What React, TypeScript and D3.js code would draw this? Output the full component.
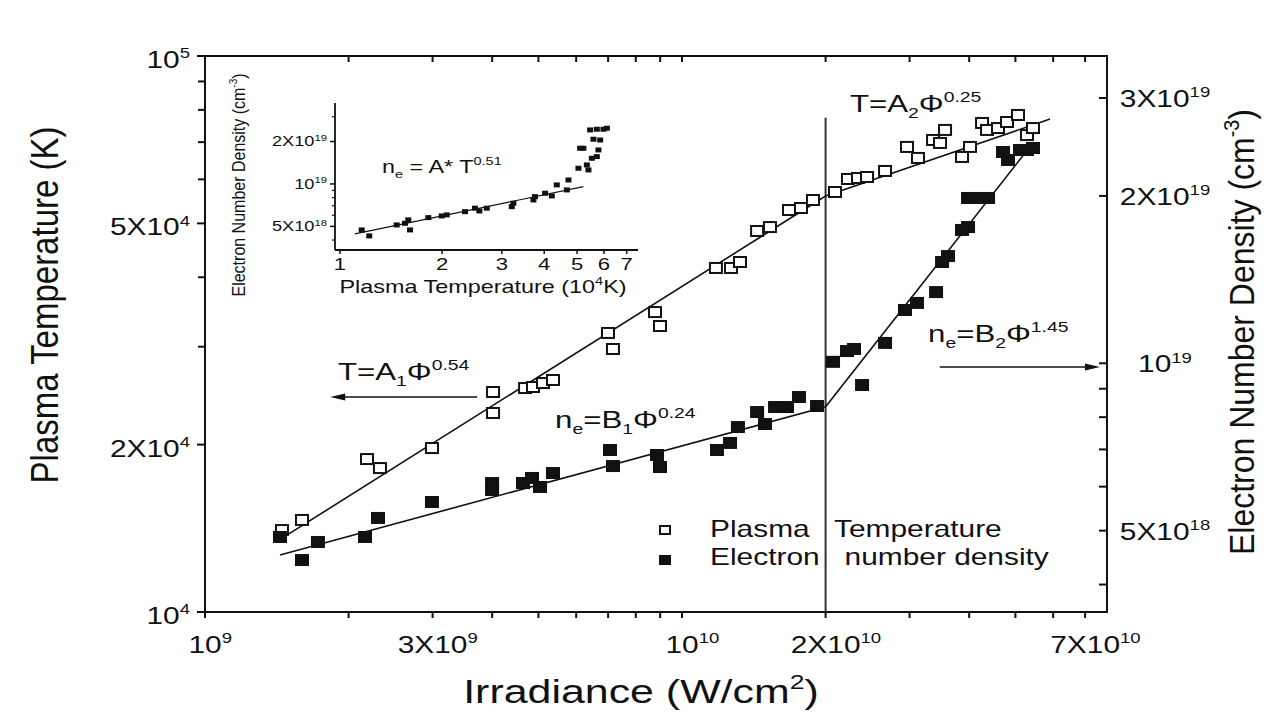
import React from 'react';
import * as d3 from 'd3';

const W = 1267;
const H = 719;
const FONT = '"Liberation Sans", Arial, Helvetica, sans-serif';
const SX = 1.3; // horizontal stretch of the original figure's lettering
const INK = '#111';

// ---- main chart data ----
// Irradiance in units of 1e9 W/cm^2, plasma temperature in units of 1e4 K
const tempIrr = [1.450, 1.597, 2.186, 2.327, 2.991, 4.017, 4.017, 4.688, 4.871, 5.112, 5.365, 6.996, 7.166, 8.779, 8.992, 11.78, 12.67, 13.23, 14.37, 15.29, 16.76, 17.76, 18.82, 20.93, 22.28, 23.39, 24.43, 26.65, 29.63, 31.24, 33.60, 34.75, 35.60, 38.64, 40.16, 42.56, 43.60, 45.97, 48.01, 50.63, 52.88, 54.43];
const tempVal = [1.404, 1.464, 1.884, 1.815, 1.972, 2.487, 2.280, 2.528, 2.539, 2.581, 2.614, 3.176, 2.972, 3.463, 3.269, 4.157, 4.157, 4.261, 4.845, 4.924, 5.284, 5.329, 5.508, 5.694, 6.009, 6.034, 6.059, 6.212, 6.862, 6.556, 7.063, 6.976, 7.362, 6.583, 6.862, 7.578, 7.362, 7.420, 7.609, 7.833, 7.208, 7.420];
// Electron number density in units of 1e18 cm^-3
const densIrr = [1.436, 1.597, 1.725, 2.165, 2.305, 2.991, 3.998, 3.998, 4.642, 4.848, 5.039, 5.365, 7.064, 7.166, 8.863, 8.992, 11.84, 12.61, 13.10, 14.37, 14.93, 15.67, 16.60, 17.59, 19.19, 20.73, 22.18, 22.94, 23.85, 26.65, 29.34, 31.09, 34.09, 35.09, 36.12, 38.64, 39.78, 39.78, 41.74, 43.81, 47.10, 48.24, 51.12, 52.88, 54.43];
const densVal = [4.871, 4.427, 4.771, 4.871, 5.270, 5.630, 6.090, 5.916, 6.090, 6.219, 5.991, 6.348, 6.983, 6.534, 6.840, 6.508, 6.983, 7.190, 7.679, 8.172, 7.776, 8.343, 8.343, 8.696, 8.379, 10.06, 10.52, 10.61, 9.139, 10.88, 12.47, 12.84, 13.43, 15.21, 15.59, 17.37, 17.58, 19.83, 19.83, 19.83, 23.99, 23.21, 24.19, 24.19, 24.39];
// power-law fit segments (break at 2e10 W/cm^2)
const tempFitIrr = [1.485, 20, 59.1];
const tempFitVal = [1.375, 5.60, 7.70];
const densFitIrr = [1.436, 20, 54.4];
const densFitVal = [4.52, 8.35, 24.9];
const breakIrr = 20;
const breakTop = 7.74;

// ---- inset data: n_e (1e18 cm^-3) vs plasma temperature (1e4 K) ----
const insetT = [1.159, 1.220, 1.470, 1.555, 1.590, 1.609, 1.822, 1.995, 2.064, 2.337, 2.50, 2.576, 2.709, 3.210, 3.245, 3.718, 3.758, 4.025, 4.212, 4.357, 4.665, 4.716, 5.047, 5.105, 5.22, 5.343, 5.402, 5.526, 5.717, 5.78, 5.587, 5.848, 5.463, 5.717, 5.98, 6.12];
const insetN = [4.72, 4.28, 5.12, 5.26, 5.56, 4.72, 5.77, 5.93, 6.03, 6.36, 6.73, 6.43, 6.73, 6.90, 7.30, 7.70, 8.13, 8.59, 8.22, 9.84, 9.07, 10.67, 12.92, 17.91, 17.91, 13.64, 12.57, 15.21, 15.63, 17.42, 20.75, 20.5, 24.15, 24.43, 24.43, 24.83];
const insetFitT = [1.107, 5.22];
const insetFitN = [4.42, 9.57];

// ---- ticks ----
const xMajor = [1, 3, 10, 20, 70];
const xMajorLabels: [string, string][] = [['10', '9'], ['3X10', '9'], ['10', '10'], ['2X10', '10'], ['7X10', '10']];
const xMinor = [2, 4, 5, 6, 7, 8, 9, 30, 40, 50, 60];
const yLMajor = [1, 2, 5, 10];
const yLLabels: [string, string][] = [['10', '4'], ['2X10', '4'], ['5X10', '4'], ['10', '5']];
const yLMinor = [3, 4, 6, 7, 8, 9];
const yRMajor = [5, 10, 20, 30];
const yRLabels: [string, string][] = [['5X10', '18'], ['10', '19'], ['2X10', '19'], ['3X10', '19']];
const yRMinor = [4, 6, 7, 8, 9];
const insetXTicks = [1, 2, 3, 4, 5, 6, 7];
const insetYMajor = [5, 10, 20];
const insetYLabels: [string, string][] = [['5X10', '18'], ['10', '19'], ['2X10', '19']];
const insetYMinor = [4, 6, 7, 8, 9, 30];

type Seg = [string, 'n' | 'sub' | 'sup'];

function Rich(props: {
  x: number; y: number; size: number; segs: Seg[]; anchor?: string; rotate?: number; sx?: number; sub?: number;
}) {
  const { x, y, size, segs, anchor = 'start', rotate = 0, sx = SX, sub = 0.62 } = props;
  let cur = 0;
  const spans = segs.map(([t, k], i) => {
    const fs = k === 'n' ? size : size * sub;
    const target = k === 'sup' ? -0.42 * size : k === 'sub' ? 0.26 * size : 0;
    const dy = target - cur;
    cur = target;
    return (
      <tspan key={i} dy={dy} fontSize={fs}>
        {t}
      </tspan>
    );
  });
  return (
    <text
      transform={`translate(${x},${y}) scale(${sx},1)${rotate ? ` rotate(${rotate})` : ''}`}
      textAnchor={anchor as any}
      fontSize={size}
      fontFamily={FONT}
      fill={INK}
      style={{ whiteSpace: 'pre' }}
    >
      {spans}
    </text>
  );
}

export default function App() {
  const L = 205, R = 1107, T = 56, B = 612;
  const x = d3.scaleLog().domain([1, 77.8]).range([L, R]);
  const yL = d3.scaleLog().domain([1, 10]).range([B, T]);
  const yR = d3.scaleLog().domain([3.57, 35.7]).range([B, T]);

  const iL = 335, iR = 638, iT = 103, iB = 250;
  const ix = d3.scaleLog().domain([0.967, 7.56]).range([iL, iR]);
  const iy = d3.scaleLog().domain([3.4, 37.5]).range([iB, iT]);

  const tempLine = d3.line<number>().x((_, i) => x(tempFitIrr[i])).y((d) => yL(d));
  const densLine = d3.line<number>().x((_, i) => x(densFitIrr[i])).y((d) => yR(d));
  const insetLine = d3.line<number>().x((_, i) => ix(insetFitT[i])).y((d) => iy(d));

  const tickFs = 23;
  const supW = (s: string, fs: number) => s.length * 0.556 * fs * 0.62 * SX;

  const mw = 14, mh = 12;

  // arrows (data anchored)
  const a1y = yL(2.436), a1x0 = x(3.72), a1x1 = x(1.83);
  const a2y = yR(9.85), a2x0 = x(34.7), a2x1 = x(75.2);

  return (
    <svg width={W} height={H} style={{ position: 'absolute', left: 0, top: 0, background: '#fff' }}>
      <rect x={0} y={0} width={W} height={H} fill="#fff" />

      {/* frame */}
      <rect x={L} y={T} width={R - L} height={B - T} fill="none" stroke={INK} strokeWidth={2} />

      {/* bottom + top ticks */}
      {[...xMajor, ...xMinor].map((v, i) => (
        <g key={'xt' + i}>
          <line x1={x(v)} x2={x(v)} y1={B} y2={B + 6} stroke={INK} strokeWidth={2} />
          <line x1={x(v)} x2={x(v)} y1={T} y2={T + 6} stroke={INK} strokeWidth={2} />
        </g>
      ))}
      {xMajor.map((v, i) => (
        <Rich
          key={'xl' + i}
          x={x(v) + supW(xMajorLabels[i][1], tickFs) / 2}
          y={653}
          size={tickFs}
          anchor="middle"
          segs={[[xMajorLabels[i][0], 'n'], [xMajorLabels[i][1], 'sup']]}
        />
      ))}

      {/* left ticks */}
      {yLMajor.map((v, i) => (
        <line key={'ylM' + i} x1={L - 8} x2={L} y1={yL(v)} y2={yL(v)} stroke={INK} strokeWidth={2} />
      ))}
      {yLMinor.map((v, i) => (
        <line key={'ylm' + i} x1={L - 7} x2={L} y1={yL(v)} y2={yL(v)} stroke={INK} strokeWidth={2} />
      ))}
      {yLMajor.map((v, i) => (
        <Rich
          key={'yll' + i}
          x={190}
          y={yL(v) + 12}
          size={tickFs}
          anchor="end"
          segs={[[yLLabels[i][0], 'n'], [yLLabels[i][1], 'sup']]}
        />
      ))}

      {/* right ticks */}
      {[...yRMajor, ...yRMinor].map((v, i) => (
        <line key={'yr' + i} x1={R - 8} x2={R} y1={yR(v)} y2={yR(v)} stroke={INK} strokeWidth={2} />
      ))}
      {yRMajor.map((v, i) => (
        <Rich
          key={'yrl' + i}
          x={1165}
          y={yR(v) + 9}
          size={tickFs}
          anchor="middle"
          segs={[[yRLabels[i][0], 'n'], [yRLabels[i][1], 'sup']]}
        />
      ))}

      {/* axis titles */}
      <Rich x={641} y={703} size={33} anchor="middle" segs={[['Irradiance (W/cm', 'n'], ['2', 'sup'], [')', 'n']]} />
      <Rich x={58} y={305} size={33} anchor="middle" rotate={-90} sx={1.15} segs={[['Plasma Temperature (K)', 'n']]} />
      <Rich
        x={1254}
        y={332}
        size={32}
        anchor="middle"
        rotate={-90}
        sx={1.1}
        segs={[['Electron Number Density (cm', 'n'], ['-3', 'sup'], [')', 'n']]}
      />

      {/* break line */}
      <line x1={x(breakIrr)} x2={x(breakIrr)} y1={yL(breakTop)} y2={B} stroke="#333" strokeWidth={2} />

      {/* fit lines */}
      <path d={tempLine(tempFitVal) || ''} fill="none" stroke={INK} strokeWidth={1.6} />
      <path d={densLine(densFitVal) || ''} fill="none" stroke={INK} strokeWidth={1.6} />

      {/* data */}
      {tempIrr.map((v, i) => (
        <rect
          key={'to' + i}
          x={x(v) - mw / 2 + 1}
          y={yL(tempVal[i]) - mh / 2 + 1}
          width={mw - 2}
          height={mh - 2}
          fill="#fff"
          stroke={INK}
          strokeWidth={2}
        />
      ))}
      {densIrr.map((v, i) => (
        <rect key={'nf' + i} x={x(v) - mw / 2} y={yR(densVal[i]) - mh / 2} width={mw} height={mh} fill={INK} />
      ))}

      {/* annotations */}
      <Rich x={x(1.9)} y={yL(2.614)} size={24} segs={[['T=A', 'n'], ['1', 'sub'], ['\u03A6', 'n'], ['0.54', 'sup']]} />
      <line x1={a1x0} x2={a1x1 + 12} y1={a1y} y2={a1y} stroke={INK} strokeWidth={1.5} />
      <path d={`M${a1x1},${a1y} L${a1x1 + 15},${a1y - 3.5} L${a1x1 + 15},${a1y + 3.5} Z`} fill={INK} />
      <Rich x={x(5.42)} y={yL(2.143)} size={24} segs={[['n', 'n'], ['e', 'sub'], ['=B', 'n'], ['1', 'sub'], ['\u03A6', 'n'], ['0.24', 'sup']]} />
      <Rich x={x(22.5)} y={yL(7.93)} size={24} segs={[['T=A', 'n'], ['2', 'sub'], ['\u03A6', 'n'], ['0.25', 'sup']]} />
      <Rich x={x(32.8)} y={yL(3.06)} size={24} segs={[['n', 'n'], ['e', 'sub'], ['=B', 'n'], ['2', 'sub'], ['\u03A6', 'n'], ['1.45', 'sup']]} />
      <line x1={a2x0} x2={a2x1 - 12} y1={a2y} y2={a2y} stroke={INK} strokeWidth={1.5} />
      <path d={`M${a2x1},${a2y} L${a2x1 - 15},${a2y - 3.5} L${a2x1 - 15},${a2y + 3.5} Z`} fill={INK} />

      {/* legend */}
      <rect x={665 - 5} y={530 - 4} width={10} height={8} fill="#fff" stroke={INK} strokeWidth={2} />
      <Rich x={710} y={537} size={23} segs={[['Plasma   Temperature', 'n']]} />
      <rect x={665 - 6} y={560 - 5} width={12} height={10} fill={INK} />
      <Rich x={710} y={565} size={23} segs={[['Electron   number density', 'n']]} />

      {/* ---- inset ---- */}
      <line x1={iL} x2={iR} y1={iB} y2={iB} stroke={INK} strokeWidth={1.8} />
      <line x1={iL} x2={iL} y1={iB} y2={iT} stroke={INK} strokeWidth={1.8} />
      {insetXTicks.map((v, i) => (
        <g key={'ixt' + i}>
          <line x1={ix(v)} x2={ix(v)} y1={iB} y2={iB + 4} stroke={INK} strokeWidth={1.5} />
          <Rich x={ix(v)} y={270} size={17} anchor="middle" segs={[[String(v), 'n']]} />
        </g>
      ))}
      {insetYMajor.map((v, i) => (
        <g key={'iyM' + i}>
          <line x1={iL - 5} x2={iL} y1={iy(v)} y2={iy(v)} stroke={INK} strokeWidth={1.5} />
          <Rich
            x={327}
            y={iy(v) + 5}
            size={14}
            anchor="end"
            segs={[[insetYLabels[i][0], 'n'], [insetYLabels[i][1], 'sup']]}
          />
        </g>
      ))}
      {insetYMinor.map((v, i) => (
        <line key={'iym' + i} x1={iL - 3} x2={iL} y1={iy(v)} y2={iy(v)} stroke={INK} strokeWidth={1.2} />
      ))}
      <Rich
        x={483}
        y={293}
        size={18}
        anchor="middle"
        segs={[['Plasma Temperature (10', 'n'], ['4', 'sup'], ['K)', 'n']]}
      />
      <Rich
        x={245}
        y={185}
        size={16}
        anchor="middle"
        rotate={-90}
        sx={1.15}
        segs={[['Electron Number Density (cm', 'n'], ['-3', 'sup'], [')', 'n']]}
      />
      <path d={insetLine(insetFitN) || ''} fill="none" stroke={INK} strokeWidth={1.2} />
      {insetT.map((v, i) => (
        <rect key={'ip' + i} x={ix(v) - 3} y={iy(insetN[i]) - 2.5} width={6} height={5} fill={INK} />
      ))}
      <Rich x={382} y={173} size={18} segs={[['n', 'n'], ['e', 'sub'], [' = A* T', 'n'], ['0.51', 'sup']]} />
    </svg>
  );
}
